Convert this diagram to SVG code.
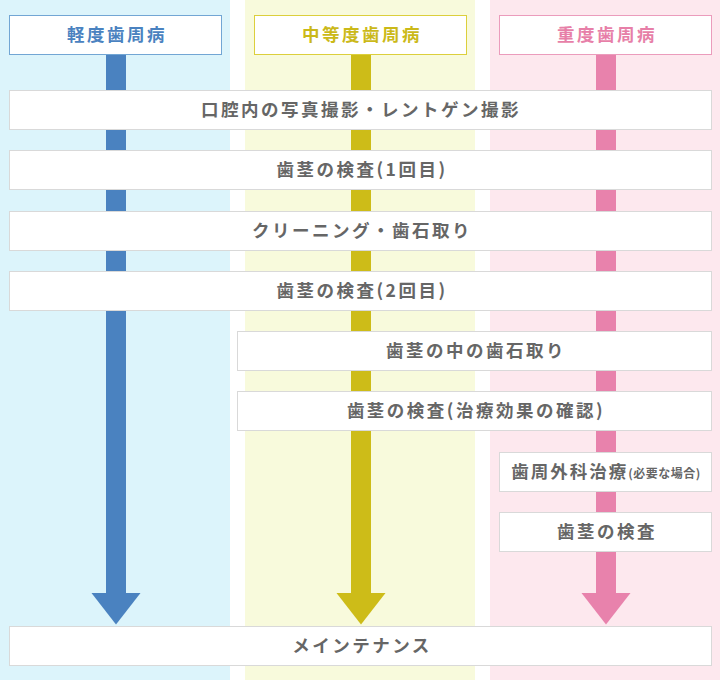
<svg xmlns="http://www.w3.org/2000/svg" width="720" height="680" viewBox="0 0 720 680">
<style>
.box{fill:#fff;stroke:#d9d9d9;stroke-width:1}
.t{font-family:"Noto Sans CJK JP","Noto Sans",sans-serif;font-weight:bold;font-size:17.5px;fill:#666;text-anchor:middle;letter-spacing:2.5px}
.s{font-size:12px;letter-spacing:0.5px}
.h{font-family:"Noto Sans CJK JP","Noto Sans",sans-serif;font-weight:bold;font-size:17.5px;text-anchor:middle;letter-spacing:2.5px}
</style>
<g id="background">
<rect x="0" y="0" width="230" height="680" fill="#dcf4fb"/>
<rect x="245" y="0" width="230" height="680" fill="#f8fadc"/>
<rect x="490" y="0" width="230" height="680" fill="#fde8ee"/>
</g>
<g id="connectors">
<rect x="106" y="54" width="20" height="540" fill="#4a82c0"/>
<polygon points="91.5,593 140.5,593 116,624.5" fill="#4a82c0"/>
<rect x="351" y="54" width="20" height="540" fill="#cdbc18"/>
<polygon points="336.5,593 385.5,593 361,624.5" fill="#cdbc18"/>
<rect x="596" y="54" width="20" height="540" fill="#e882ac"/>
<polygon points="581.5,593 630.5,593 606,624.5" fill="#e882ac"/>
</g>
<g id="header-mild">
<rect x="9.5" y="15.5" width="212" height="39" fill="#fff" stroke="#72a6d4"/>
<text class="h" x="117" y="41" fill="#4a82c0">軽度歯周病</text>
</g>
<g id="header-moderate">
<rect x="254.5" y="15.5" width="212" height="39" fill="#fff" stroke="#dccf3c"/>
<text class="h" x="362" y="41" fill="#cbb919">中等度歯周病</text>
</g>
<g id="header-severe">
<rect x="499.5" y="15.5" width="212" height="39" fill="#fff" stroke="#eb9cbc"/>
<text class="h" x="607" y="41" fill="#e77fa8">重度歯周病</text>
</g>
<g id="step1">
<rect class="box" x="9.5" y="90.5" width="702" height="39"/>
<text class="t" x="361" y="116">口腔内の写真撮影・レントゲン撮影</text>
</g>
<g id="step2">
<rect class="box" x="9.5" y="150.5" width="702" height="39"/>
<text class="t" x="362" y="176">歯茎の検査(1回目)</text>
</g>
<g id="step3">
<rect class="box" x="9.5" y="211.5" width="702" height="39"/>
<text class="t" x="362" y="237">クリーニング・歯石取り</text>
</g>
<g id="step4">
<rect class="box" x="9.5" y="271.5" width="702" height="39"/>
<text class="t" x="362" y="297">歯茎の検査(2回目)</text>
</g>
<g id="step5">
<rect class="box" x="237.5" y="331.5" width="474" height="39"/>
<text class="t" x="476" y="357">歯茎の中の歯石取り</text>
</g>
<g id="step6">
<rect class="box" x="237.5" y="391.5" width="474" height="39"/>
<text class="t" x="476" y="417">歯茎の検査(治療効果の確認)</text>
</g>
<g id="step7">
<rect class="box" x="499.5" y="452.5" width="212" height="39"/>
<text class="t" x="606" y="478" style="letter-spacing:2px">歯周外科治療<tspan class="s">(必要な場合)</tspan></text>
</g>
<g id="step8">
<rect class="box" x="499.5" y="512.5" width="212" height="39"/>
<text class="t" x="607" y="538">歯茎の検査</text>
</g>
<g id="step9">
<rect class="box" x="9.5" y="626.5" width="702" height="39"/>
<text class="t" x="362" y="652">メインテナンス</text>
</g>
</svg>
